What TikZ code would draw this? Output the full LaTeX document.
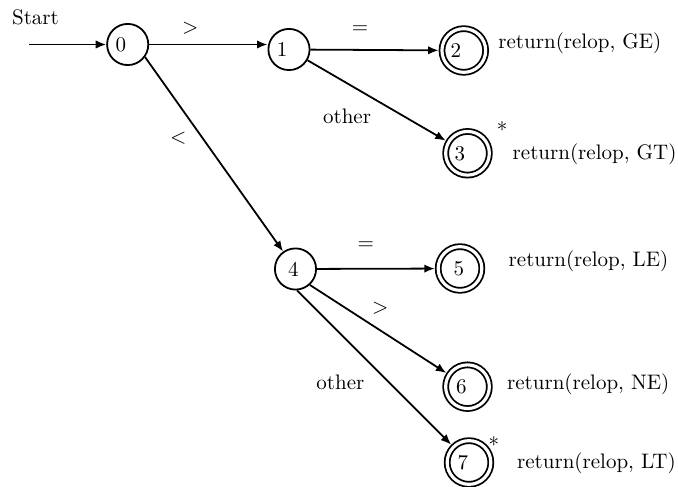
\documentclass[tikz,border=0pt]{standalone}
\usetikzlibrary{arrows.meta}
\newcommand\dsh[2]{\kern#1\relax#2\kern-#1\relax}
\begin{document}
\begin{tikzpicture}[x=0.476pt,y=-0.476pt,
  every node/.style={font=\fontsize{10}{12}\selectfont},
  state/.style={circle,draw,line width=0.85pt,minimum size=19.6pt,inner sep=0pt},
  accept/.style={state,double,double distance=1.5pt,minimum size=20.8pt,outer sep=1.6pt},
  edge/.style={line width=0.85pt,-{Latex[length=5pt,width=4pt]}},
  lbl/.style={inner sep=0pt}]
\useasboundingbox (0,0) rectangle (678,487);
% states
\node[state]  (n0) at (127.7,44.5) {\dsh{-3.3pt}{0}};
\node[state]  (n1) at (289,49.5)   {\dsh{-3.3pt}{1}};
\node[accept] (n2) at (463.8,50.5) {\dsh{-3.8pt}{2}};
\node[accept] (n3) at (467.5,153.3){\dsh{-3.6pt}{3}};
\node[state]  (n4) at (295.5,269)  {\dsh{-1pt}{4}};
\node[accept] (n5) at (460,268.5)  {\dsh{-0.5pt}{5}};
\node[accept] (n6) at (467.5,386.7){\dsh{-2.9pt}{6}};
\node[accept] (n7) at (469,462.5)  {\dsh{-2.9pt}{7}};
% edges
\coordinate (s) at (29.3,44.5);
\draw[edge] (s) -- (n0);
\draw[edge] (n0) -- (n0 -| n1.west);
\draw[edge] (n1) -- (n2);
\draw[edge] (n1) -- (n3);
\draw[edge] (n0.-36) -- (n4);
\draw[edge] (n4) -- (n5);
\draw[edge] (n4.-48) -- (n6);
\draw[edge] (n4.-86) -- (n7);
% labels
\node[lbl,anchor=base west] (tstart) at (11.7,25) {Start};
\node[lbl] (lgt1) at (190.3,28) {$>$};
\node[lbl] (llt) at (178.3,137.8) {$<$};
\node[lbl] (leq1) at (360,30) {$=$};
\node[lbl,anchor=base west] (loth1) at (322.7,124) {other};
\node[lbl,anchor=north] (ast3) at (502,121.7) {*};
\node[lbl,anchor=base west] (rge) at (498,48.3) {return(relop, GE)};
\node[lbl,anchor=base west] (rgt) at (512.3,159.3) {return(relop, GT)};
\node[lbl] (leq2) at (365.8,246) {$=$};
\node[lbl] (lgt2) at (380.3,308.3) {$>$};
\node[lbl,anchor=base west] (rle) at (508.3,266.7) {return(relop, LE)};
\node[lbl,anchor=base west] (loth2) at (316,389.3) {other};
\node[lbl,anchor=base west] (rne) at (506.7,389.3) {return(relop, NE)};
\node[lbl,anchor=north] (ast7) at (493.8,436.7) {*};
\node[lbl,anchor=base west] (rlt) at (516.7,468.3) {return(relop, LT)};
\end{tikzpicture}
\end{document}
